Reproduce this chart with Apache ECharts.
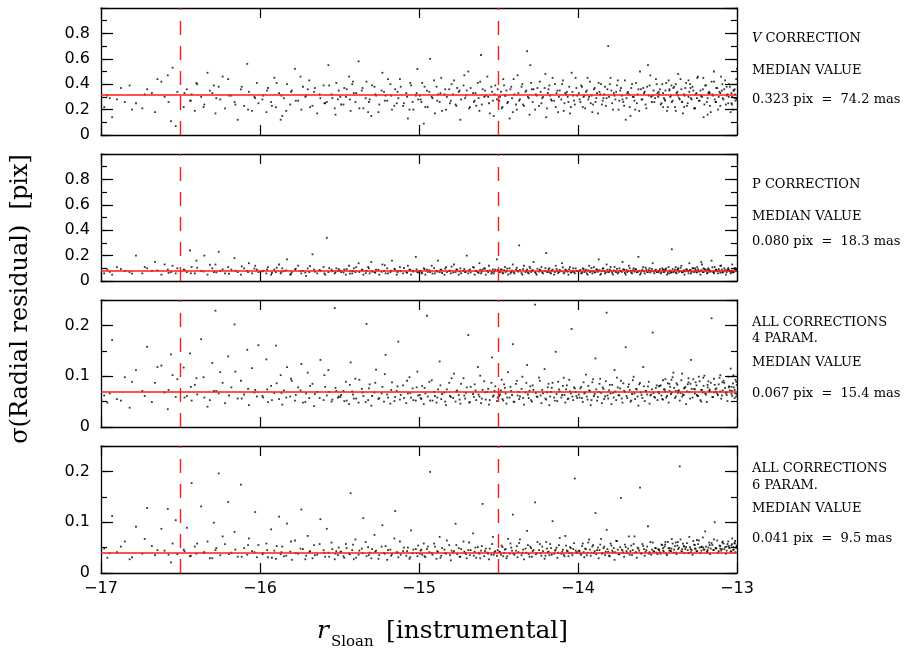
<!DOCTYPE html>
<html>
<head>
<meta charset="utf-8">
<script src="https://cdn.jsdelivr.net/npm/echarts@6/dist/echarts.min.js"></script>
<style>html,body{margin:0;padding:0;background:#fff;}#c{width:909px;height:649px;}</style>
</head>
<body>
<div id="c"></div>
<script>
// instrumental magnitude of each star (shared by all four panels)
const mag = [
-16.98,-16.96,-16.93,-16.9,-16.85,-16.82,-16.78,-16.74,-16.71,-16.68,-16.66,-16.62,-16.6,-16.58,-16.56,-16.55,-16.53,-16.52,
-16.48,-16.46,-16.44,-16.43,-16.41,-16.4,-16.37,-16.35,-16.33,-16.3,-16.29,-16.28,-16.26,-16.25,-16.22,-16.2,-16.18,-16.16,-16.14,-16.12,-16.1,-16.08,-16.07,-16.05,-16.03,-16.02,-16.01,
-15.98,-15.96,-15.95,-15.93,-15.91,-15.9,-15.88,-15.87,-15.86,-15.85,-15.83,-15.81,-15.8,-15.78,-15.76,-15.74,-15.73,-15.71,-15.7,-15.69,-15.67,-15.66,-15.64,-15.62,-15.6,-15.59,-15.58,-15.57,-15.55,-15.53,-15.52,-15.51,
-15.49,-15.47,-15.46,-15.44,-15.43,-15.42,-15.41,-15.4,-15.38,-15.36,-15.35,-15.33,-15.32,-15.31,-15.3,-15.28,-15.27,-15.25,-15.23,-15.22,-15.21,-15.2,-15.18,-15.17,-15.15,-15.14,-15.13,-15.12,-15.1,-15.08,-15.07,-15.06,-15.05,-15.04,-15.02,-15.01,
-14.99,-14.98,-14.97,-14.96,-14.95,-14.93,-14.92,-14.9,-14.89,-14.88,-14.87,-14.86,-14.84,-14.83,-14.81,-14.8,-14.78,-14.77,-14.76,-14.75,-14.74,-14.72,-14.71,-14.7,-14.69,-14.68,-14.66,-14.65,-14.64,-14.63,-14.62,-14.61,-14.6,-14.59,-14.58,-14.57,-14.56,-14.54,-14.53,-14.52,-14.51,
-14.49,-14.48,-14.47,-14.46,-14.45,-14.44,-14.43,-14.42,-14.41,-14.4,-14.39,-14.38,-14.37,-14.35,-14.34,-14.33,-14.32,-14.31,-14.3,-14.29,-14.28,-14.27,-14.26,-14.24,-14.23,-14.22,-14.21,-14.2,-14.19,-14.18,-14.17,-14.16,-14.15,-14.14,-14.13,-14.12,-14.1,-14.09,-14.08,-14.07,-14.06,-14.05,-14.04,-14.03,-14.02,-14.01,
-13.99,-13.98,-13.97,-13.96,-13.95,-13.94,-13.93,-13.92,-13.91,-13.9,-13.89,-13.88,-13.87,-13.86,-13.85,-13.84,-13.83,-13.82,-13.81,-13.8,-13.79,-13.78,-13.77,-13.76,-13.75,-13.74,-13.73,-13.72,-13.71,-13.7,-13.69,-13.68,-13.67,-13.66,-13.65,-13.64,-13.63,-13.62,-13.61,-13.6,-13.59,-13.58,-13.57,-13.56,-13.55,-13.54,-13.53,-13.52,-13.51,-13.5,
-13.49,-13.48,-13.47,-13.46,-13.45,-13.44,-13.43,-13.42,-13.41,-13.4,-13.39,-13.38,-13.37,-13.36,-13.35,-13.34,-13.33,-13.32,-13.31,-13.3,-13.29,-13.28,-13.27,-13.26,-13.25,-13.24,-13.23,-13.22,-13.21,-13.2,-13.19,-13.18,-13.17,-13.16,-13.15,-13.14,-13.13,-13.12,-13.11,-13.1,-13.09,-13.08,-13.07,-13.06,-13.05,-13.04,-13.03,-13.02,-13.01,-13.0,
-13.465,-13.425,-13.385,-13.345,-13.305,-13.265,-13.225,-13.185,-13.145,-13.105,-13.065,-13.035,-13.015,-13.005,
// second group of stars
-16.945,-16.875,-16.805,-16.725,-16.645,-16.575,
-16.475,-16.435,-16.395,-16.355,-16.315,-16.275,-16.235,-16.195,-16.155,-16.115,-16.075,-16.035,
-15.985,-15.955,-15.925,-15.895,-15.865,-15.835,-15.805,-15.775,-15.745,-15.715,-15.685,-15.655,-15.625,-15.595,-15.565,-15.545,-15.525,-15.505,
-15.495,-15.475,-15.455,-15.435,-15.415,-15.395,-15.375,-15.355,-15.335,-15.315,-15.295,-15.275,-15.255,-15.235,-15.215,-15.195,-15.175,-15.155,-15.135,-15.115,-15.095,-15.075,-15.055,-15.035,-15.015,-15.005,
-14.995,-14.985,-14.965,-14.945,-14.935,-14.915,-14.905,-14.885,-14.865,-14.855,-14.835,-14.825,-14.805,-14.795,-14.785,-14.765,-14.745,-14.735,-14.715,-14.705,-14.685,-14.675,-14.655,-14.645,-14.625,-14.615,-14.605,-14.585,-14.565,-14.555,-14.545,-14.535,-14.525,-14.505,
-14.495,-14.485,-14.475,-14.465,-14.455,-14.445,-14.425,-14.415,-14.405,-14.385,-14.375,-14.365,-14.355,-14.345,-14.325,-14.315,-14.305,-14.295,-14.285,-14.265,-14.255,-14.245,-14.235,-14.225,-14.205,-14.195,-14.185,-14.175,-14.165,-14.145,-14.135,-14.125,-14.115,-14.105,-14.095,-14.085,-14.075,-14.065,-14.055,-14.045,-14.035,-14.025,-14.015,-14.005,
-13.995,-13.985,-13.975,-13.965,-13.955,-13.945,-13.935,-13.925,-13.915,-13.905,-13.895,-13.885,-13.875,-13.865,-13.855,-13.845,-13.835,-13.825,-13.815,-13.805,-13.795,-13.785,-13.775,-13.765,-13.755,-13.745,-13.735,-13.725,-13.715,-13.705,-13.695,-13.685,-13.675,-13.665,-13.655,-13.645,-13.635,-13.625,-13.615,-13.605,-13.595,-13.585,-13.575,-13.565,-13.555,-13.545,-13.535,-13.525,-13.515,-13.505,
-13.495,-13.485,-13.475,-13.465,-13.455,-13.445,-13.435,-13.425,-13.415,-13.405,-13.395,-13.385,-13.375,-13.365,-13.355,-13.345,-13.335,-13.325,-13.315,-13.305,-13.295,-13.285,-13.275,-13.265,-13.255,-13.245,-13.235,-13.225,-13.215,-13.205,-13.195,-13.185,-13.175,-13.165,-13.155,-13.145,-13.135,-13.125,-13.115,-13.105,-13.095,-13.085,-13.075,-13.065,-13.055,-13.045,-13.035,-13.025,-13.015,-13.005,
-13.492,-13.452,-13.412,-13.372,-13.332,-13.292,-13.252,-13.212,-13.172,-13.132,-13.092,-13.052,-13.032,-13.022,-13.012,-13.002
];

// sigma of radial residual [pix], V correction
const sigV = [
.22,.31,.14,.28,.26,.39,.25,.21,.36,.33,.18,.42,.3,.47,.11,.53,.07,.34,
.22,.36,.27,.32,.19,.41,.3,.24,.49,.33,.39,.17,.38,.28,.21,.44,.31,.26,.12,.36,.23,.56,.34,.19,.29,.41,.25,
.31,.18,.37,.26,.45,.22,.33,.12,.15,.29,.4,.24,.35,.52,.27,.2,.38,.31,.36,.43,.23,.34,.17,.29,.39,.25,.26,.55,.32,.21,.41,.28,
.24,.37,.3,.46,.19,.4,.33,.26,.58,.35,.21,.42,.18,.28,.15,.38,.31,.24,.49,.34,.31,.27,.4,.2,.36,.25,.29,.44,.23,.33,.13,.2,.39,.26,.31,.52,
.28,.41,.09,.22,.35,.6,.3,.17,.38,.32,.26,.45,.32,.2,.36,.27,.43,.24,.37,.34,.12,.39,.29,.35,.5,.22,.33,.27,.23,.41,.19,.63,.36,.3,.31,.46,.25,.34,.15,.39,.28,
.3,.21,.44,.31,.35,.26,.13,.38,.18,.32,.24,.47,.27,.4,.23,.34,.66,.29,.55,.36,.36,.2,.31,.42,.25,.3,.37,.14,.33,.39,.28,.45,.27,.22,.35,.3,.4,.19,.33,.34,.26,.17,.49,.31,.24,.37,
.28,.39,.22,.31,.34,.45,.3,.25,.18,.36,.26,.33,.41,.32,.24,.29,.38,.29,.7,.4,.35,.2,.31,.34,.43,.27,.37,.28,.23,.12,.33,.32,.15,.4,.3,.2,.25,.36,.5,.28,.37,.34,.21,.55,.39,.3,.31,.26,.44,.33,
.32,.24,.4,.29,.35,.19,.43,.3,.26,.37,.22,.33,.48,.28,.36,.17,.31,.41,.25,.34,.29,.38,.21,.32,.45,.27,.35,.3,.14,.39,.26,.33,.23,.42,.31,.28,.37,.2,.34,.46,.29,.36,.24,.32,.4,.18,.3,.35,.27,.52,
.22,.36,.4,.26,.43,.21,.31,.16,.5,.33,.38,.25,.29,.44,
.29,.37,.2,.32,.44,.26,
.33,.27,.4,.22,.35,.29,.46,.31,.24,.38,.2,.3,
.28,.35,.23,.41,.31,.19,.34,.27,.46,.3,.22,.37,.32,.25,.39,.29,.16,.35,
.3,.24,.36,.28,.42,.33,.21,.37,.29,.26,.39,.32,.18,.35,.27,.44,.31,.23,.34,.38,.25,.3,.41,.2,.33,.28,
.31,.26,.38,.22,.34,.29,.43,.27,.33,.19,.36,.3,.25,.4,.32,.23,.35,.28,.47,.31,.21,.37,.26,.33,.29,.42,.24,.35,.3,.17,.38,.27,.32,.36,
.27,.34,.22,.39,.31,.25,.36,.29,.44,.2,.33,.28,.38,.24,.35,.3,.16,.41,.26,.32,.37,.23,.34,.29,.48,.21,.36,.31,.27,.4,.33,.18,.35,.28,.43,.25,.32,.3,.38,.22,.34,.27,.45,.31,
.33,.26,.38,.3,.21,.35,.28,.42,.31,.24,.37,.29,.17,.34,.4,.27,.32,.23,.36,.3,.45,.25,.33,.28,.39,.2,.35,.31,.26,.43,.29,.34,.22,.37,.3,.27,.41,.32,.19,.36,.28,.33,.24,.38,.31,.47,.26,.35,.29,.4,
.3,.36,.25,.33,.28,.41,.22,.35,.31,.27,.38,.19,.34,.29,.44,.26,.32,.37,.23,.3,.4,.28,.35,.21,.33,.46,.27,.31,.36,.24,.39,.29,.34,.18,.32,.42,.26,.37,.3,.23,.35,.28,.43,.31,.25,.38,.33,.2,.36,.29,
.34,.27,.39,.31,.22,.37,.29,.45,.33,.26,.4,.3,.24,.35,.32,.28
];

// P correction
const sigP = [
.06,.09,.05,.11,.08,.07,.2,.06,.1,.08,.15,.05,.13,.09,.07,.12,.06,.1,
.09,.07,.24,.11,.06,.16,.08,.2,.05,.1,.07,.13,.23,.08,.06,.11,.09,.18,.07,.05,.1,.08,.14,.06,.12,.09,.07,
.08,.06,.11,.05,.09,.07,.13,.06,.1,.08,.17,.05,.07,.09,.12,.06,.08,.04,.1,.07,.21,.09,.06,.08,.11,.05,.34,.07,.09,.06,.1,.08,
.07,.09,.05,.12,.08,.06,.1,.07,.14,.09,.05,.08,.11,.06,.15,.07,.09,.05,.13,.08,.06,.1,.07,.16,.09,.05,.08,.11,.06,.07,.12,.09,.05,.08,.19,.07,
.08,.06,.1,.05,.09,.07,.12,.06,.08,.16,.07,.09,.05,.11,.08,.06,.13,.07,.09,.05,.1,.08,.07,.2,.06,.09,.11,.05,.08,.07,.14,.06,.09,.1,.05,.08,.12,.07,.06,.09,.17,
.07,.09,.06,.11,.08,.05,.1,.07,.13,.06,.09,.08,.28,.05,.12,.07,.09,.06,.1,.08,.15,.07,.05,.09,.11,.06,.08,.22,.07,.1,.06,.09,.05,.12,.08,.07,.14,.06,.09,.08,.05,.11,.07,.1,.06,.08,
.08,.06,.1,.07,.09,.05,.12,.08,.06,.11,.07,.09,.17,.05,.08,.1,.06,.13,.07,.09,.08,.05,.11,.07,.06,.1,.08,.15,.09,.05,.07,.12,.08,.06,.1,.09,.07,.19,.05,.08,.11,.06,.09,.07,.1,.08,.14,.06,.09,.07,
.08,.06,.1,.07,.09,.05,.11,.08,.25,.07,.09,.06,.1,.08,.12,.07,.05,.09,.08,.14,.06,.1,.07,.09,.11,.08,.05,.13,.07,.09,.06,.1,.08,.16,.07,.11,.09,.06,.08,.12,.07,.1,.05,.09,.08,.06,.13,.07,.1,.08,
.09,.06,.11,.07,.08,.1,.15,.09,.06,.12,.08,.07,.1,.09,
.072,.095,.058,.11,.083,.064,
.087,.061,.104,.075,.128,.068,.092,.057,.081,.115,.07,.098,
.076,.091,.063,.105,.071,.084,.055,.097,.079,.066,.118,.073,.088,.06,.101,.077,.069,.093,
.082,.067,.094,.058,.078,.109,.071,.086,.062,.099,.075,.065,.089,.072,.124,.06,.081,.096,.069,.077,.103,.064,.087,.074,.091,.068,
.079,.066,.093,.071,.085,.059,.102,.074,.088,.063,.097,.07,.081,.113,.067,.09,.076,.061,.094,.072,.084,.068,.106,.078,.064,.089,.073,.098,.069,.083,.058,.092,.075,.087,
.077,.091,.064,.085,.071,.098,.059,.082,.069,.105,.074,.088,.063,.094,.079,.067,.112,.072,.086,.061,.096,.075,.083,.068,.101,.073,.09,.065,.081,.07,.095,.062,.087,.076,.108,.069,.084,.073,.093,.066,.08,.071,.099,.078,
.074,.088,.065,.093,.079,.061,.084,.07,.102,.076,.067,.091,.073,.086,.058,.097,.078,.069,.089,.072,.11,.064,.083,.075,.095,.068,.081,.071,.092,.063,.087,.077,.1,.066,.085,.073,.094,.069,.08,.062,.09,.076,.105,.071,.086,.067,.096,.074,.082,.07,
.079,.093,.068,.086,.074,.099,.063,.082,.071,.095,.077,.066,.089,.073,.104,.069,.084,.076,.092,.061,.087,.072,.1,.078,.067,.091,.074,.085,.07,.097,.081,.064,.088,.075,.108,.071,.083,.077,.094,.065,.09,.073,.086,.069,.101,.076,.082,.068,.096,.079,
.072,.089,.066,.093,.078,.085,.07,.098,.074,.087,.067,.091,.08,.076,.095,.083
];

// all corrections, 4 parameters
const sig4 = [
.062,.048,.171,.055,.098,.038,.112,.071,.158,.049,.087,.121,.068,.035,.143,.102,.059,.094,
.117,.061,.145,.052,.083,.096,.173,.058,.04,.126,.071,.229,.066,.108,.047,.139,.078,.202,.056,.091,.064,.152,.043,.116,.073,.06,.161,
.058,.133,.049,.081,.067,.16,.055,.102,.044,.072,.118,.06,.091,.052,.078,.124,.048,.066,.107,.057,.085,.041,.069,.132,.053,.079,.062,.112,.05,.234,.071,.058,
.063,.051,.089,.045,.127,.07,.056,.095,.048,.075,.061,.203,.053,.084,.042,.068,.113,.057,.079,.05,.142,.064,.046,.088,.059,.071,.168,.054,.082,.047,.066,.098,.058,.076,.052,.109,
.057,.081,.045,.066,.219,.052,.092,.061,.048,.074,.129,.055,.068,.043,.087,.059,.105,.05,.072,.063,.046,.096,.056,.078,.181,.049,.065,.084,.053,.118,.06,.047,.073,.09,.054,.069,.044,.137,.062,.08,.051,
.064,.093,.052,.077,.046,.108,.058,.071,.163,.049,.085,.062,.055,.099,.044,.068,.122,.057,.08,.05,.073,.241,.06,.091,.047,.066,.114,.054,.078,.043,.069,.087,.058,.148,.051,.074,.063,.097,.048,.082,.056,.07,.193,.053,.076,.061,
.058,.079,.049,.066,.103,.054,.072,.043,.088,.061,.135,.052,.069,.095,.047,.075,.06,.225,.056,.083,.045,.067,.112,.053,.078,.062,.091,.048,.071,.157,.057,.084,.05,.065,.099,.055,.074,.042,.087,.063,.118,.051,.07,.08,.046,.064,.186,.059,.077,.053,
.066,.082,.055,.074,.094,.061,.048,.079,.068,.107,.057,.086,.071,.052,.092,.064,.077,.045,.084,.069,.132,.058,.075,.088,.062,.099,.053,.073,.081,.066,.049,.09,.07,.214,.059,.083,.076,.063,.097,.056,.072,.087,.067,.051,.08,.115,.061,.078,.093,.065,
.054,.085,.071,.06,.096,.074,.05,.083,.068,.102,.063,.079,.057,.089,
.066,.052,.089,.061,.118,.073,
.058,.079,.064,.098,.053,.071,.087,.062,.109,.056,.075,.068,
.061,.074,.053,.086,.067,.058,.095,.063,.072,.049,.081,.065,.057,.102,.069,.054,.077,.06,
.059,.071,.052,.083,.064,.056,.093,.068,.049,.076,.061,.087,.055,.066,.104,.058,.073,.051,.08,.063,.057,.091,.067,.053,.078,.062,
.063,.055,.077,.06,.089,.052,.069,.058,.082,.065,.05,.074,.061,.096,.057,.07,.054,.085,.062,.067,.048,.079,.059,.072,.064,.101,.056,.068,.075,.053,.087,.06,.071,.058,
.061,.072,.055,.084,.066,.058,.079,.063,.05,.091,.069,.06,.075,.057,.087,.064,.071,.053,.082,.067,.059,.097,.062,.073,.056,.068,.085,.06,.077,.052,.065,.089,.07,.058,.081,.063,.074,.055,.093,.066,.06,.078,.069,.057,
.064,.076,.057,.088,.068,.06,.081,.071,.053,.094,.065,.074,.059,.085,.067,.078,.055,.09,.062,.072,.066,.083,.058,.07,.097,.063,.076,.056,.086,.069,.061,.079,.073,.052,.092,.066,.075,.06,.084,.068,.057,.08,.071,.064,.089,.062,.074,.067,.058,.082,
.069,.081,.062,.092,.074,.058,.086,.071,.065,.098,.077,.06,.083,.072,.067,.105,.063,.079,.07,.088,.056,.075,.094,.066,.082,.061,.09,.073,.068,.101,.064,.078,.071,.087,.059,.095,.074,.066,.084,.07,.062,.091,.077,.068,.099,.072,.065,.086,.073,.06,
.08,.07,.093,.067,.076,.085,.063,.097,.074,.069,.088,.078,.071,.102,.066,.083
];

// all corrections, 6 parameters
const sig6 = [
.048,.03,.112,.041,.062,.027,.091,.038,.128,.053,.035,.087,.044,.126,.021,.058,.104,.037,
.046,.089,.033,.177,.052,.038,.131,.041,.062,.029,.099,.045,.196,.035,.057,.14,.04,.081,.032,.174,.049,.036,.068,.043,.12,.031,.055,
.039,.058,.031,.086,.044,.028,.111,.037,.052,.033,.097,.042,.026,.064,.038,.125,.047,.034,.073,.041,.029,.055,.036,.106,.045,.032,.087,.04,.06,.027,.043,.035,
.042,.03,.057,.038,.157,.045,.027,.066,.036,.048,.108,.033,.051,.04,.029,.075,.044,.035,.094,.039,.053,.026,.046,.037,.122,.041,.031,.062,.043,.034,.05,.028,.084,.039,.047,.033,
.044,.036,.058,.031,.047,.199,.039,.052,.028,.041,.071,.034,.046,.038,.055,.025,.043,.097,.037,.049,.032,.062,.04,.029,.045,.035,.078,.042,.03,.051,.038,.044,.136,.033,.048,.04,.027,.057,.036,.043,.034,
.041,.054,.033,.046,.029,.067,.038,.05,.115,.036,.044,.031,.059,.04,.027,.048,.083,.037,.052,.032,.045,.139,.039,.057,.034,.043,.028,.061,.041,.035,.049,.102,.038,.046,.03,.055,.042,.036,.073,.044,.033,.051,.039,.047,.186,.04,
.043,.036,.058,.031,.047,.04,.066,.034,.052,.039,.118,.045,.029,.056,.038,.049,.035,.085,.042,.033,.054,.041,.026,.063,.046,.037,.148,.044,.032,.051,.039,.072,.043,.035,.057,.04,.03,.048,.168,.038,.053,.034,.045,.092,.041,.036,.06,.042,.049,.037,
.046,.038,.055,.042,.061,.035,.049,.044,.067,.04,.053,.037,.047,.21,.043,.058,.039,.051,.045,.071,.041,.036,.056,.048,.043,.064,.039,.052,.046,.082,.042,.05,.037,.059,.045,.1,.048,.04,.054,.044,.062,.047,.038,.057,.05,.043,.068,.046,.041,.053,
.049,.044,.06,.047,.039,.055,.051,.045,.066,.048,.052,.042,.058,.05,
.039,.052,.031,.067,.045,.036,
.043,.034,.058,.04,.029,.049,.072,.037,.046,.032,.055,.041,
.037,.045,.03,.053,.041,.034,.062,.039,.048,.027,.043,.035,.057,.04,.032,.047,.038,.05,
.041,.033,.049,.037,.056,.03,.044,.039,.061,.035,.047,.042,.028,.052,.038,.045,.034,.068,.04,.036,.05,.043,.031,.046,.039,.054,
.038,.046,.033,.052,.041,.036,.058,.043,.03,.049,.039,.064,.035,.044,.04,.055,.032,.047,.042,.037,.06,.045,.034,.05,.04,.029,.053,.043,.038,.048,.036,.071,.041,.045,
.042,.036,.051,.039,.047,.033,.058,.044,.038,.053,.041,.066,.035,.046,.04,.055,.032,.049,.043,.037,.061,.045,.039,.052,.034,.048,.042,.057,.036,.044,.05,.04,.069,.038,.046,.033,.054,.043,.039,.049,.035,.059,.044,.041,
.044,.038,.053,.041,.048,.035,.06,.046,.04,.055,.043,.037,.05,.045,.067,.039,.052,.042,.047,.034,.058,.044,.049,.041,.063,.037,.051,.046,.04,.056,.043,.048,.036,.054,.045,.072,.041,.05,.044,.039,.057,.047,.042,.052,.038,.061,.046,.043,.049,.04,
.047,.041,.056,.044,.052,.038,.061,.049,.043,.058,.046,.04,.054,.05,.066,.042,.053,.047,.059,.039,.051,.045,.063,.048,.043,.057,.05,.044,.07,.046,.052,.041,.06,.048,.055,.045,.049,.064,.043,.053,.047,.058,.051,.044,.062,.049,.054,.046,.059,.05,
.045,.056,.048,.061,.052,.047,.065,.05,.055,.049,.06,.053,.057,.051,.063,.054
];

const medians = [0.323, 0.080, 0.067, 0.041];
const limitMags = [-16.5, -14.5];
const yMax = [1, 1, 0.25, 0.25];
const yMajor = [0.2, 0.2, 0.1, 0.1];
const yMinor = [0.1, 0.1, 0.05, 0.05];
const panelLines = [
  ['{i|V} CORRECTION', 'MEDIAN VALUE', '0.323 pix  =  74.2 mas'],
  ['P CORRECTION', 'MEDIAN VALUE', '0.080 pix  =  18.3 mas'],
  ['ALL CORRECTIONS', '4 PARAM.', 'MEDIAN VALUE', '0.067 pix  =  15.4 mas'],
  ['ALL CORRECTIONS', '6 PARAM.', 'MEDIAN VALUE', '0.041 pix  =  9.5 mas']
];
const sigmas = [sigV, sigP, sig4, sig6];

// layout
const L = 101, W = 636, H = 127;
const tops = [8, 154, 300, 446];
const textY = [[40, 72, 101], [186, 218, 243], [324, 340, 364, 395], [470, 487, 510, 540]];

const grids = [], xAxes = [], yAxes = [], series = [], graphics = [];
const minus = v => String(v).replace('-', '\u2212');

for (let p = 0; p < 4; p++) {
  grids.push({left: L, top: tops[p], width: W, height: H, containLabel: false});
  ['bottom', 'top'].forEach(pos => {
    xAxes.push({
      type: 'value', gridIndex: p, position: pos, min: -17, max: -13, interval: 1,
      axisLine: {show: true, onZero: false, lineStyle: {color: '#000', width: 1.3}},
      axisTick: {show: true, inside: true, length: 10, lineStyle: {color: '#000', width: 1.2}},
      axisLabel: {show: pos === 'bottom' && p === 3, formatter: minus, color: '#000',
                  fontFamily: 'DejaVu Sans', fontSize: 16, margin: 8},
      splitLine: {show: false}
    });
  });
  ['left', 'right'].forEach(pos => {
    yAxes.push({
      type: 'value', gridIndex: p, position: pos, min: 0, max: yMax[p], interval: yMajor[p],
      axisLine: {show: true, onZero: false, lineStyle: {color: '#000', width: 1.3}},
      axisTick: {show: true, inside: true, length: 12, lineStyle: {color: '#000', width: 1.2}},
      axisLabel: {show: pos === 'left', showMaxLabel: false, color: '#000',
                  fontFamily: 'DejaVu Sans', fontSize: 16, margin: 11},
      splitLine: {show: false}
    });
    yAxes.push({
      type: 'value', gridIndex: p, position: pos, min: 0, max: yMax[p], interval: yMinor[p],
      axisLine: {show: false},
      axisTick: {show: true, inside: true, length: 6, lineStyle: {color: '#000', width: 1.2}},
      axisLabel: {show: false},
      splitLine: {show: false}
    });
  });
  const data = mag.map((m, i) => [m, sigmas[p][i]]).filter(d => d[1] !== undefined);
  series.push({
    type: 'scatter', xAxisIndex: p * 2, yAxisIndex: p * 4, data: data,
    symbol: 'rect', symbolSize: 1.8, itemStyle: {color: '#000'}, silent: true,
    markLine: {
      silent: true, symbol: 'none', animation: false, label: {show: false},
      data: [
        {yAxis: medians[p], lineStyle: {color: '#ff1a1a', width: 1.6, type: 'solid'}},
        {xAxis: limitMags[0], lineStyle: {color: '#ff1a1a', width: 1.4, type: [14, 11]}},
        {xAxis: limitMags[1], lineStyle: {color: '#ff1a1a', width: 1.4, type: [14, 11]}}
      ]
    }
  });
  panelLines[p].forEach((t, k) => {
    graphics.push({
      type: 'text', left: 752, top: textY[p][k] - 8,
      style: {text: t, fill: '#000', font: '13px "DejaVu Serif"',
              rich: {i: {fontStyle: 'italic', fontFamily: 'DejaVu Serif', fontSize: 13}}}
    });
  });
}

// axis titles
graphics.push({
  type: 'text', x: 21, y: 299, rotation: Math.PI / 2,
  style: {text: '\u03c3(Radial residual)  [pix]', fill: '#000', font: '24px "DejaVu Serif"',
          textAlign: 'center', textVerticalAlign: 'middle'}
});
graphics.push({
  type: 'text', x: 317, y: 631,
  style: {text: 'r', fill: '#000', font: 'italic 25px "DejaVu Serif"', textAlign: 'left', textVerticalAlign: 'middle'}
});
graphics.push({
  type: 'text', x: 331, y: 642,
  style: {text: 'Sloan', fill: '#000', font: '15px "DejaVu Serif"', textAlign: 'left', textVerticalAlign: 'middle'}
});
graphics.push({
  type: 'text', x: 386, y: 631,
  style: {text: '[instrumental]', fill: '#000', font: '25px "DejaVu Serif"', textAlign: 'left', textVerticalAlign: 'middle'}
});

const chart = echarts.init(document.getElementById('c'), null, {renderer: 'canvas'});
chart.setOption({
  animation: false,
  backgroundColor: '#fff',
  grid: grids, xAxis: xAxes, yAxis: yAxes, series: series, graphic: graphics
});
</script>
</body>
</html>
